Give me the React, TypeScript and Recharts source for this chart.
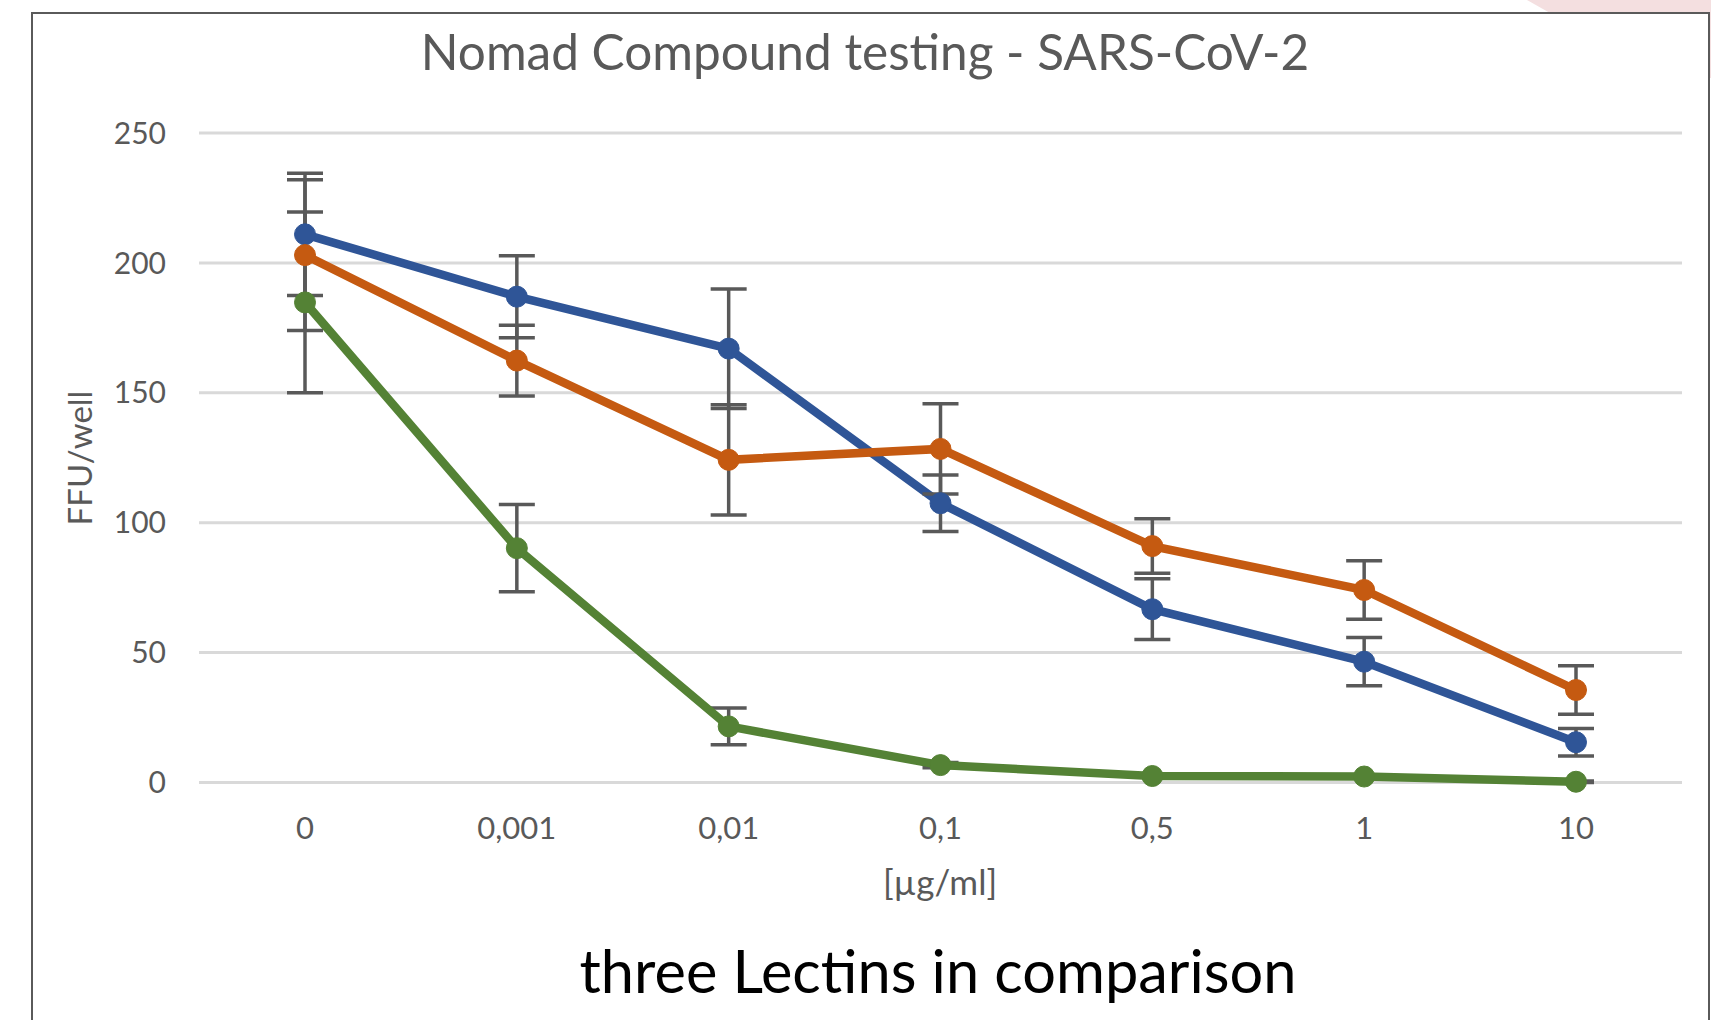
import React from 'react';
import { LineChart, Line, XAxis, YAxis, CartesianGrid, ErrorBar } from 'recharts';

const doses = ['0', '0,001', '0,01', '0,1', '0,5', '1', '10'];
const blueValues = [211, 187, 167, 107.5, 66.7, 46.5, 15.5];
const blueErrors = [23.5, 15.8, 23, 10.9, 11.7, 9.3, 5.3];
const orangeValues = [203, 162.4, 124.2, 128.4, 91, 74.1, 35.6];
const orangeErrors = [29, 13.6, 21.2, 17.4, 10.5, 11.3, 9.3];
const greenValues = [184.8, 90.2, 21.6, 6.7, 2.5, 2.3, 0.3];
const greenErrors = [34.8, 16.8, 7.1, 1, 0.5, 0.5, 0.3];
const yTicks = [0, 50, 100, 150, 200, 250];

const data = doses.map((dose, i) => ({
  dose,
  blue: blueValues[i],
  blueErr: blueErrors[i],
  orange: orangeValues[i],
  orangeErr: orangeErrors[i],
  green: greenValues[i],
  greenErr: greenErrors[i],
}));

const BLUE = '#2F5597';
const ORANGE = '#C55A11';
const GREEN = '#548235';
const GRAY = '#595959';
const FONT = 'Lato, "Open Sans", sans-serif';

const App: React.FC = () => {
  const series = [
    { key: 'blue', err: 'blueErr', color: BLUE },
    { key: 'orange', err: 'orangeErr', color: ORANGE },
    { key: 'green', err: 'greenErr', color: GREEN },
  ];

  return (
    <div
      style={{
        position: 'absolute',
        left: 0,
        top: 0,
        width: 1711,
        height: 1020,
        overflow: 'hidden',
        background: '#fff',
        fontFamily: FONT,
      }}
    >
      {/* pink decoration behind the chart box */}
      <svg width={1711} height={1020} style={{ position: 'absolute', left: 0, top: 0 }}>
        <polygon points="1527,0 1711,0 1711,78 1665,78" fill="#F4DFE0" />
      </svg>
      <div
        style={{
          position: 'absolute',
          left: 31,
          top: 12,
          width: 1675,
          height: 1100,
          border: '2px solid #5a5a5a',
          background: '#fff',
        }}
      />
      <div style={{ position: 'absolute', left: 0, top: 0 }}>
        <LineChart
          width={1711}
          height={1020}
          data={data}
          margin={{ top: 133, right: 29, bottom: 197.5, left: 139 }}
        >
          <CartesianGrid vertical={false} stroke="#D9D9D9" strokeWidth={3} />
          <XAxis
            dataKey="dose"
            height={40}
            axisLine={false}
            tickLine={false}
            tickSize={0}
            tickMargin={34}
            padding={{ left: 106, right: 106 }}
            tick={{ fill: GRAY, fontSize: 31, fontFamily: FONT }}
            interval={0}
          />
          <YAxis
            width={60}
            domain={[0, 250]}
            ticks={yTicks}
            axisLine={false}
            tickLine={false}
            tickSize={0}
            tickMargin={33}
            tick={{ fill: GRAY, fontSize: 30, fontFamily: FONT }}
          />
          {series.map((s) => (
            <Line
              key={s.key}
              type="linear"
              dataKey={s.key}
              stroke={s.color}
              strokeWidth={8.5}
              dot={{ r: 10.5, fill: s.color, stroke: s.color, strokeWidth: 1 }}
              activeDot={false}
              isAnimationActive={false}
            >
              <ErrorBar dataKey={s.err} direction="y" width={18} strokeWidth={3.5} stroke={GRAY} />
            </Line>
          ))}
        </LineChart>
      </div>
      <svg
        width={1711}
        height={1020}
        style={{ position: 'absolute', left: 0, top: 0, pointerEvents: 'none' }}
      >
        <text x={865} y={70} textAnchor="middle" fontSize={49.5} fill={GRAY} fontFamily={FONT}>
          Nomad Compound testing - SARS-CoV-2
        </text>
        <text
          transform="translate(92, 458) rotate(-90)"
          textAnchor="middle"
          fontSize={33}
          fill={GRAY}
          fontFamily={FONT}
        >
          FFU/well
        </text>
        <text x={940} y={895} textAnchor="middle" fontSize={35} fill={GRAY} fontFamily={FONT}>
          [µg/ml]
        </text>
        <text x={938} y={993} textAnchor="middle" fontSize={59.5} fill="#000" fontFamily={FONT}>
          three Lectins in comparison
        </text>
      </svg>
    </div>
  );
};

export default App;
